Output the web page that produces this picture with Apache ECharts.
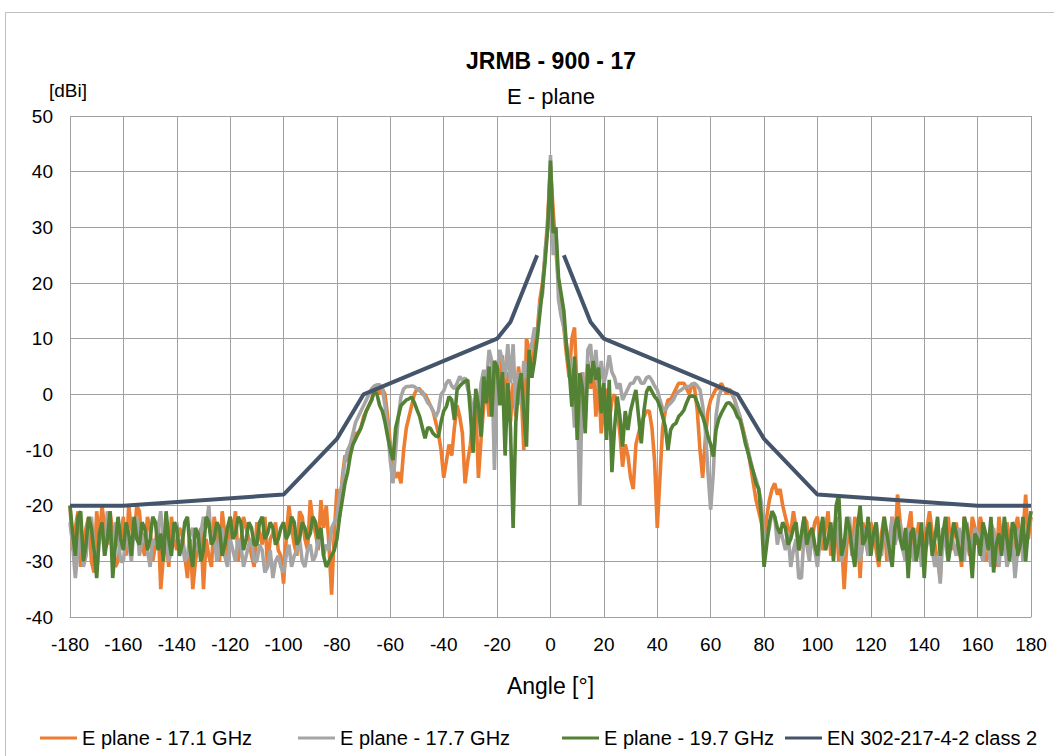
<!DOCTYPE html>
<html>
<head>
<meta charset="utf-8">
<script src="https://cdn.jsdelivr.net/npm/echarts@6/dist/echarts.min.js"></script>
<style>
  html, body { margin: 0; background: #fff; }
  #chart { width: 1054px; height: 756px; }
</style>
</head>
<body>
<div id="chart"></div>
<script>
// measured angles [deg], 1 deg steps
const angles = [
  -180, -179, -178, -177, -176, -175, -174, -173, -172, -171,
  -170, -169, -168, -167, -166, -165, -164, -163, -162, -161,
  -160, -159, -158, -157, -156, -155, -154, -153, -152, -151,
  -150, -149, -148, -147, -146, -145, -144, -143, -142, -141,
  -140, -139, -138, -137, -136, -135, -134, -133, -132, -131,
  -130, -129, -128, -127, -126, -125, -124, -123, -122, -121,
  -120, -119, -118, -117, -116, -115, -114, -113, -112, -111,
  -110, -109, -108, -107, -106, -105, -104, -103, -102, -101,
  -100, -99, -98, -97, -96, -95, -94, -93, -92, -91,
  -90, -89, -88, -87, -86, -85, -84, -83, -82, -81,
  -80, -79, -78, -77, -76, -75, -74, -73, -72, -71,
  -70, -69, -68, -67, -66, -65, -64, -63, -62, -61,
  -60, -59, -58, -57, -56, -55, -54, -53, -52, -51,
  -50, -49, -48, -47, -46, -45, -44, -43, -42, -41,
  -40, -39, -38, -37, -36, -35, -34, -33, -32, -31,
  -30, -29, -28, -27, -26, -25, -24, -23, -22, -21,
  -20, -19, -18, -17, -16, -15, -14, -13, -12, -11,
  -10, -9, -8, -7, -6, -5, -4, -3, -2, -1,
  0, 1, 2, 3, 4, 5, 6, 7, 8, 9,
  10, 11, 12, 13, 14, 15, 16, 17, 18, 19,
  20, 21, 22, 23, 24, 25, 26, 27, 28, 29,
  30, 31, 32, 33, 34, 35, 36, 37, 38, 39,
  40, 41, 42, 43, 44, 45, 46, 47, 48, 49,
  50, 51, 52, 53, 54, 55, 56, 57, 58, 59,
  60, 61, 62, 63, 64, 65, 66, 67, 68, 69,
  70, 71, 72, 73, 74, 75, 76, 77, 78, 79,
  80,
  81, 82, 83, 84, 85, 86, 87, 88, 89, 90,
  91, 92, 93, 94, 95, 96, 97, 98, 99, 100,
  101, 102, 103, 104, 105, 106, 107, 108, 109, 110,
  111, 112, 113, 114, 115, 116, 117, 118, 119, 120,
  121, 122, 123, 124, 125, 126, 127, 128, 129, 130,
  131, 132, 133, 134, 135, 136, 137, 138, 139, 140,
  141, 142, 143, 144, 145, 146, 147, 148, 149, 150,
  151, 152, 153, 154, 155, 156, 157, 158, 159, 160,
  161, 162, 163, 164, 165, 166, 167, 168, 169, 170,
  171, 172, 173, 174, 175, 176, 177, 178, 179, 180
];

// E plane - 17.1 GHz [dBi]
const gain171 = [
  -20, -28, -24, -21, -31, -27, -24, -22, -30, -32,
  -21, -26, -20, -24, -27, -21, -25, -31, -30, -26,
  -22, -29, -20, -24, -26, -20, -21, -27, -29, -22,
  -24, -30, -27, -23, -35, -29, -26, -31, -22, -26,
  -28, -24, -25, -29, -33, -26, -35, -30, -27, -24,
  -35, -26, -29, -31, -22, -25, -30, -21, -25, -29,
  -22, -25, -21, -30, -27, -22, -24, -26, -29, -31,
  -23, -25, -27, -22, -31, -26, -25, -23, -28, -29,
  -34, -26, -20, -24, -27, -29, -21, -22, -26, -28,
  -19, -23, -25, -28, -19, -24, -20, -27, -36, -25,
  -17, -22, -15, -11, -12, -9, -8, -7, -7, -6,
  -4, -3, -2, -1, 1, 1, 0, 1, 0, -4,
  -9, -13, -15, -14, -16, -10, -6, -4, -2, 0,
  1, 1, 0, 0, -1, -2, -3, -5, -7, -10,
  -15, -12, -9, -11, -6, -2, -4, -7, -16, -12,
  -9, -3, -2, -15, -8, -2, 1, -4, 3, -1,
  5, 2, 7, -3, 4, -5, 2, -4, 5, 1,
  -10, 10, 8, 3, 9, 11, 17, 20, 25, 32,
  41, 33, 26, 20, 15, 12, 7, 3, 10, 12,
  0, -6, 4, -3, 6, 1, 5, -4, 3, -7,
  -2, 1, -5, -1, 0, -3, -7, -13, -9, -11,
  -15, -17, -9, -7, -5, -4, -3, -3, -6, -12,
  -24, -15, -6, -3, -1, -1, 0, 1, 2, 2,
  2, 1, 0, 2, 1, -3, -10, -15, -8, -3,
  -1, 0, 1, 1, 2, 1, 0, 1, 0, -1,
  -3, -4, -6, -8, -10, -13, -16, -19, -21, -23,
  -26,
  -22, -19, -17, -16, -18, -17, -20, -22, -24, -25,
  -21, -24, -28, -27, -22, -23, -29, -26, -23, -22,
  -26, -28, -24, -21, -29, -25, -22, -30, -26, -35,
  -27, -24, -29, -22, -25, -33, -23, -26, -29, -23,
  -25, -28, -31, -25, -22, -30, -26, -22, -27, -18,
  -23, -27, -30, -24, -21, -29, -26, -23, -30, -26,
  -24, -21, -25, -27, -30, -33, -24, -25, -22, -28,
  -25, -23, -27, -31, -22, -26, -29, -22, -24, -27,
  -22, -24, -30, -29, -23, -25, -31, -22, -26, -28,
  -23, -26, -29, -24, -22, -27, -25, -18, -26, -22
];

// E plane - 17.7 GHz [dBi]
const gain177 = [
  -23, -27, -33, -28, -25, -31, -29, -24, -22, -27,
  -32, -26, -24, -29, -21, -26, -28, -23, -26, -30,
  -30, -25, -27, -30, -24, -22, -29, -26, -25, -28,
  -31, -26, -27, -24, -21, -27, -25, -30, -28, -24,
  -23, -28, -26, -30, -29, -25, -24, -28, -27, -25,
  -22, -24, -20, -27, -25, -30, -27, -24, -29, -31,
  -26, -28, -30, -26, -27, -31, -29, -27, -26, -30,
  -30, -27, -28, -32, -31, -28, -33, -30, -29, -31,
  -32, -29, -27, -31, -29, -28, -26, -30, -31, -28,
  -27, -30, -29, -26, -25, -29, -27, -28, -24, -23,
  -22, -18, -16, -12, -10, -9, -7, -5, -4, -3,
  -2, -1, 0, 1, 1.5, 1.7, 1.7, 1, -2, -6,
  -12, -16, -10, -4, -0.4, 1, 1.4, 1.4, 1.5, 1.4,
  1, 0.6, 0.5, -0.5, -1.5, -2, -3, -4, -3, 0,
  0.6, 2, 2.6, 1.5, 1, 2, 3.2, 2.5, 3, 1,
  -0.6, -4, 0, -3.4, 2, 4.4, 2, 8, 6, -13.6,
  4, 8, 6, 3, 9, 2, 9, -3, 4, -2,
  6, 3, 7, 9, 12, 10, 16, 18, 26, 30,
  43, 25, 30, 17, 14, 12, 9, 6, 2, -6,
  1, -20, 4, -5, 8, 9, 3, 8, 1, 6,
  2, 4, 7, 4, 3, 1, 2, -1, 0, 1,
  2, 2, 3, 3, 2, 2, 3, 3.2, 2.5, 1.5,
  0.8, -1, -2.5, -2.8, -2, -1.6, -1, 0, 0.5, 0.8,
  1.2, 1.4, 1.4, 1.8, 2, 1.5, 0.8, -2, -6.4, -14,
  -20.7, -14, -4, -0.4, 0.8, 0.8, 1, 0.8, 0.5, -1,
  -2.5, -4, -6.4, -8, -10, -12, -14, -15.3, -17, -19.5,
  -27,
  -26, -24, -21, -22, -27, -24, -26, -28, -25, -31,
  -28, -26, -33, -33, -25, -27, -30, -24, -28, -31,
  -26, -23, -28, -26, -24, -29, -23, -25, -30, -28,
  -25, -22, -29, -26, -23, -30, -27, -24, -29, -27,
  -26, -23, -27, -29, -24, -26, -30, -22, -27, -25,
  -23, -28, -30, -24, -27, -30, -25, -26, -31, -29,
  -27, -25, -28, -31, -29, -34, -25, -27, -30, -25,
  -27, -29, -24, -26, -30, -23, -27, -28, -24, -25,
  -28, -30, -25, -27, -31, -24, -28, -31, -25, -26,
  -31, -29, -26, -33, -28, -24, -30, -27, -24, -21
];

// E plane - 19.7 GHz [dBi]
const gain197 = [
  -20, -25, -29, -22, -21, -30, -27, -22, -24, -28,
  -33, -25, -23, -29, -26, -21, -33, -27, -22, -26,
  -28, -23, -25, -29, -22, -26, -27, -23, -24, -28,
  -26, -22, -23, -28, -25, -30, -21, -26, -29, -23,
  -24, -29, -27, -23, -22, -28, -31, -24, -25, -30,
  -28, -22, -23, -27, -26, -23, -24, -29, -27, -24,
  -22, -26, -25, -22, -23, -28, -26, -23, -24, -27,
  -27, -23, -22, -26, -25, -23, -24, -27, -26, -24,
  -23, -26, -25, -22, -23, -27, -26, -23, -24, -26,
  -25, -22, -23, -26, -24, -29, -31, -30, -29, -28,
  -26, -22, -19, -16, -14, -11, -9, -8, -7, -6,
  -4.6, -3, -2, -1, 0.5, 0, -2, -3, -5, -7.6,
  -10, -11.8, -6, -4, -2, -1.5, -1, -0.8, -0.5, -1.5,
  -2.8, -4, -6, -7.9, -6, -6.1, -7, -7.5, -7.6, -5,
  -3, -2.2, -0.4, -1, -4.6, 0.8, 1.5, 2, 2.3, 2.6,
  -3.4, -10.5, 1, -2, -7.6, 3.2, -1.6, 5, -4, 6,
  5, -2, 4, -11, 2, -6, -24, -5, 1, 3.8,
  -3, -9.4, 8, 3, 6, 10, 14.5, 19, 24, 30,
  42, 29, 30, 21, 18, 15, 8.6, 4.4, -2.2, 6.8,
  -8.2, 3.8, 1, -7, 5.4, 2, 6, 2.6, 4.8, -3.4,
  2, -8.2, 2.6, -14, -6, -0.4, -4, -9.4, -3, -6.4,
  -3, -1, 0.8, -4, -8.8, -3, 0.5, 1.4, 0.5, -0.4,
  -1, -2.2, -4, -5.8, -10, -6.4, -5.5, -5.2, -4, -3.5,
  -2.8, -1.5, -0.4, -0.3, -0.4, -1.5, -3, -4, -5.5, -7.6,
  -9, -11.2, -6.4, -4.5, -3.4, -2.5, -1.6, -1.5, -2, -2.8,
  -4, -4.6, -6.5, -8.8, -10.5, -12.4, -14, -16, -17, -22,
  -31,
  -27, -23, -21, -22, -24, -25, -23, -24, -27, -26,
  -24, -23, -28, -25, -22, -27, -25, -24, -27, -29,
  -25, -22, -28, -26, -23, -30, -20, -18, -29, -27,
  -22, -24, -28, -31, -24, -20, -27, -26, -22, -29,
  -25, -23, -30, -27, -22, -25, -28, -31, -24, -22,
  -26, -28, -24, -33, -25, -24, -30, -27, -23, -33,
  -25, -23, -29, -26, -22, -29, -25, -22, -30, -27,
  -23, -25, -28, -30, -22, -24, -27, -33, -25, -26,
  -29, -23, -25, -28, -22, -32, -27, -25, -29, -22,
  -26, -30, -23, -24, -29, -27, -22, -30, -24, -21
];

// EN 302-217-4-2 class 2 envelope (null = gap around boresight)
const maskAngles = [-180, -160, -100, -80, -70, -20, -15, -5, 0, 5, 15, 20, 70, 80, 100, 160, 180];
const maskValues = [-20, -20, -18, -8, 0, 10, 13, 25, null, 25, 13, 10, 0, -8, -18, -20, -20];

const seriesNames = ['E plane - 17.1 GHz', 'E plane - 17.7 GHz', 'E plane - 19.7 GHz', 'EN 302-217-4-2 class 2'];
const seriesColors = ['#ED7D31', '#A5A5A5', '#548235', '#44546A'];
const legendLeft = [40, 298, 562, 785];

const FONT = "'Liberation Sans', Arial, sans-serif";

function pairs(xs, ys) {
  return xs.map((x, i) => [x, ys[i] === null ? '-' : ys[i]]);
}

const chart = echarts.init(document.getElementById('chart'), null, { renderer: 'svg' });

const gainSeries = [gain171, gain177, gain197].map((values, i) => ({
  name: seriesNames[i],
  type: 'line',
  data: pairs(angles, values),
  symbol: 'none',
  lineStyle: { width: 3.6, color: seriesColors[i] },
  itemStyle: { color: seriesColors[i] },
  z: 2 + i
}));

chart.setOption({
  animation: false,
  backgroundColor: '#fff',
  textStyle: { fontFamily: FONT, color: '#000' },
  title: [
    {
      text: 'JRMB - 900 - 17',
      left: 551, top: 49, padding: 0, textAlign: 'center',
      textStyle: { fontFamily: FONT, fontSize: 23, fontWeight: 'bold', color: '#000' }
    },
    {
      text: 'E - plane',
      left: 551, top: 85, padding: 0, textAlign: 'center',
      textStyle: { fontFamily: FONT, fontSize: 22, fontWeight: 'normal', color: '#000' }
    }
  ],
  graphic: [
    {
      type: 'rect', silent: true, z: -10,
      shape: { x: 5.5, y: 12.5, width: 1100, height: 800 },
      style: { fill: 'none', stroke: '#bfbfbf', lineWidth: 1 }
    },
    {
      type: 'text', left: 49, top: 81,
      style: { text: '[dBi]', font: '19px ' + FONT, fill: '#000' }
    }
  ],
  legend: seriesNames.map((name, i) => ({
    data: [name],
    left: legendLeft[i],
    top: 728,
    padding: 0,
    icon: 'rect',
    itemWidth: 37,
    itemHeight: 3,
    itemGap: 6,
    textStyle: { fontFamily: FONT, fontSize: 20, color: '#000' }
  })),
  grid: { left: 70, right: 23, top: 116, bottom: 139, containLabel: false },
  xAxis: {
    type: 'value',
    min: -180, max: 180, interval: 20,
    name: 'Angle [°]',
    nameLocation: 'middle',
    nameGap: 57,
    nameTextStyle: { fontFamily: FONT, fontSize: 23, color: '#000' },
    axisLine: { show: true, onZero: false, lineStyle: { color: '#a0a0a0', width: 1 } },
    axisTick: { show: false },
    axisLabel: { margin: 18, fontFamily: FONT, fontSize: 19, color: '#000' },
    splitLine: { show: true, lineStyle: { color: '#a0a0a0', width: 1 } }
  },
  yAxis: {
    type: 'value',
    min: -40, max: 50, interval: 10,
    axisLine: { show: true, lineStyle: { color: '#a0a0a0', width: 1 } },
    axisTick: { show: false },
    axisLabel: { margin: 17, fontFamily: FONT, fontSize: 19, color: '#000' },
    splitLine: { show: true, lineStyle: { color: '#a0a0a0', width: 1 } }
  },
  series: gainSeries.concat([{
    name: seriesNames[3],
    type: 'line',
    data: pairs(maskAngles, maskValues),
    connectNulls: false,
    symbol: 'none',
    lineStyle: { width: 4, color: seriesColors[3] },
    itemStyle: { color: seriesColors[3] },
    z: 10
  }])
});
</script>
</body>
</html>
